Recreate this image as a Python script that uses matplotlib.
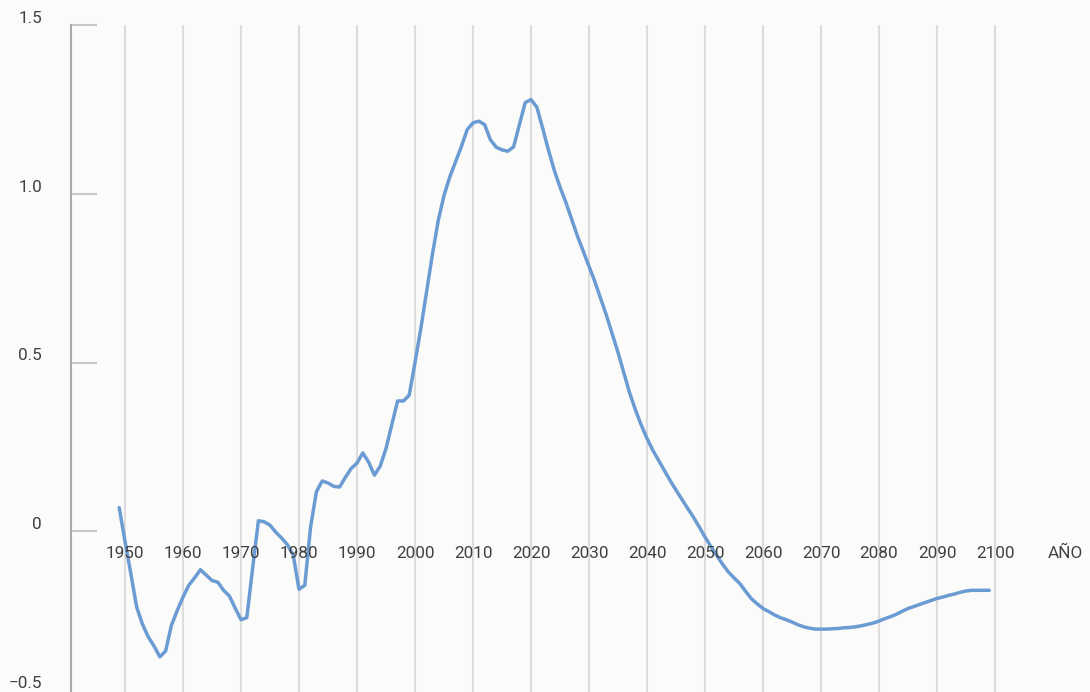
import numpy as np
import matplotlib
matplotlib.use("Agg")
import matplotlib.pyplot as plt

# ---- Ma'lumotlar ----
years = list(range(1949, 2100))
values = [
    0.070, -0.030, -0.125, -0.224, -0.275, -0.313, -0.340, -0.372, -0.355, -0.279,  # 1949-1958
    -0.235, -0.195, -0.160, -0.138, -0.114, -0.130, -0.146, -0.151, -0.175, -0.192,  # 1959-1968
    -0.228, -0.262, -0.256, -0.110, 0.031, 0.028, 0.018, -0.003, -0.020, -0.040,    # 1969-1978
    -0.070, -0.172, -0.160, 0.013, 0.117, 0.149, 0.143, 0.133, 0.131, 0.160,        # 1979-1988
    0.186, 0.202, 0.232, 0.205, 0.166, 0.193, 0.245, 0.315, 0.386, 0.386,           # 1989-1998
    0.403, 0.500, 0.600, 0.710, 0.820, 0.920, 0.995, 1.050, 1.095, 1.140,           # 1999-2008
    1.190, 1.210, 1.215, 1.205, 1.160, 1.138, 1.130, 1.126, 1.139, 1.205,           # 2009-2018
    1.270, 1.279, 1.257, 1.195, 1.130, 1.070, 1.020, 0.975, 0.925, 0.875,           # 2019-2028
    0.830, 0.785, 0.740, 0.690, 0.640, 0.585, 0.530, 0.470, 0.410, 0.360,           # 2029-2038
    0.315, 0.275, 0.240, 0.210, 0.180, 0.150, 0.122, 0.095, 0.068, 0.042,           # 2039-2048
    0.013, -0.017, -0.045, -0.071, -0.097, -0.120, -0.138, -0.155, -0.178, -0.200,  # 2049-2058
    -0.215, -0.229, -0.238, -0.248, -0.256, -0.262, -0.269, -0.277, -0.283, -0.287,  # 2059-2068
    -0.290, -0.290, -0.290, -0.289, -0.288, -0.286, -0.285, -0.283, -0.280, -0.276,  # 2069-2078
    -0.272, -0.266, -0.259, -0.253, -0.246, -0.237, -0.229, -0.223, -0.217, -0.211,  # 2079-2088
    -0.205, -0.199, -0.195, -0.190, -0.186, -0.181, -0.177, -0.175, -0.175, -0.175,  # 2089-2098
    -0.175,                                                                          # 2099
]

x_ticks = list(range(1950, 2101, 10))
y_ticks = [1.5, 1.0, 0.5, 0.0, -0.5]
y_labels = ["1.5", "1.0", "0.5", "0", "\u22120.5"]
x_title = "AÑO"

BG = "#fbfbfa"
LINE = "#6b9bd3"
TEXT = "#404040"
GRID = "#dcdcdc"
FS = 12.3

plt.rcParams["font.family"] = ["Roboto", "DejaVu Sans"]

fig = plt.figure(figsize=(10.9, 6.92), dpi=100, facecolor=BG)
W, H = 1090, 692
ax = fig.add_axes([71 / W, 1 - 700 / H, (W - 71) / W, 675 / H])
ax.set_facecolor(BG)

ax.set_xlim(1950 - 54 / 5.8, 1950 + (W - 125) / 5.8)
ax.set_ylim(-0.5, 1.5)

for s in ["top", "right", "bottom"]:
    ax.spines[s].set_visible(False)
ax.spines["left"].set_color("#a9a9a9")
ax.spines["left"].set_linewidth(1.5)

# vertikal panjara chiziqlari
for yr in x_ticks:
    ax.axvline(yr, color=GRID, lw=1.5, zorder=1)

ax.plot(years, values, color=LINE, lw=2.5, solid_joinstyle="round",
        solid_capstyle="round", zorder=3)

ax.set_xticks([])
ax.set_yticks(y_ticks)
ax.set_yticklabels([])
ax.tick_params(axis="y", direction="in", length=19, width=1.5, color="#c8c8c8")

for v, lab in zip(y_ticks, y_labels):
    # eng pastki yorliq rasm chetida kesilmasligi uchun biroz yuqoriga
    dy = 2 if v > -0.5 else 12
    ax.annotate(lab, xy=(0, v), xycoords=("axes fraction", "data"),
                xytext=(-29, dy), textcoords="offset pixels",
                ha="right", va="baseline", fontsize=FS, color=TEXT)

for yr in x_ticks:
    ax.annotate(str(yr), xy=(yr, 0), xycoords="data",
                xytext=(0, -15), textcoords="offset pixels",
                ha="center", va="top", fontsize=FS, color=TEXT)
ax.annotate(x_title, xy=(2112.1, 0), xycoords="data",
            xytext=(0, -15), textcoords="offset pixels",
            ha="center", va="top", fontsize=FS, color=TEXT)

fig.savefig("out.png", dpi=100, facecolor=fig.get_facecolor())
